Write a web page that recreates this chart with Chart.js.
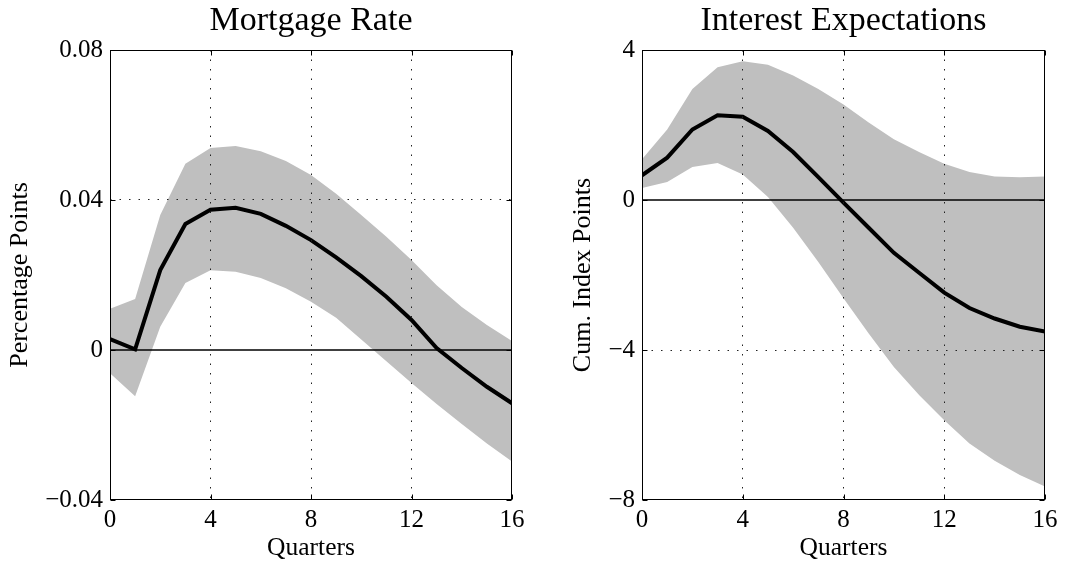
<!DOCTYPE html>
<html><head><meta charset="utf-8">
<script src="https://cdn.jsdelivr.net/npm/chart.js@4.4.0/dist/chart.umd.min.js"></script>
<style>
html,body{margin:0;padding:0;background:#fff;}
#wrap{position:relative;width:1066px;height:565px;overflow:hidden;}
canvas{position:absolute;top:0;}
#c1{left:0}
#c2{left:533px}
</style></head><body>
<div id="wrap"><canvas id="c1" width="533" height="565"></canvas><canvas id="c2" width="533" height="565"></canvas></div>
<script>
// ---- data ----
const quarters = [0,1,2,3,4,5,6,7,8,9,10,11,12,13,14,15,16];
const xTicks = [0,4,8,12,16];

const mortgageTitle = 'Mortgage Rate';
const mortgageYTitle = 'Percentage Points';
const mortgageMedian = [0.0029,0.0002,0.0213,0.0336,0.0374,0.0379,0.0363,0.0331,0.0293,0.0247,0.0197,0.0142,0.0080,0.0005,-0.0048,-0.0098,-0.0142];
const mortgageUpper  = [0.0110,0.0136,0.0360,0.0497,0.0539,0.0544,0.0530,0.0504,0.0467,0.0417,0.0360,0.0302,0.0240,0.0173,0.0115,0.0067,0.0024];
const mortgageLower  = [-0.0062,-0.0123,0.0062,0.0179,0.0213,0.0209,0.0192,0.0165,0.0129,0.0086,0.0028,-0.0030,-0.0088,-0.0144,-0.0197,-0.0249,-0.0297];
const mortgageYTicks = [-0.04,0,0.04,0.08];
const mortgageYLabels = ['\u22120.04','0','0.04','0.08'];

const expectTitle = 'Interest Expectations';
const expectYTitle = 'Cum. Index Points';
const expectMedian = [0.66,1.13,1.88,2.26,2.22,1.84,1.28,0.61,-0.07,-0.74,-1.41,-1.94,-2.47,-2.88,-3.16,-3.38,-3.51];
const expectUpper  = [1.09,1.88,2.96,3.54,3.70,3.61,3.32,2.96,2.55,2.07,1.62,1.28,0.97,0.75,0.63,0.61,0.63];
const expectLower  = [0.32,0.48,0.88,0.99,0.68,0.08,-0.74,-1.65,-2.62,-3.56,-4.45,-5.20,-5.87,-6.49,-6.95,-7.33,-7.64];
const expectYTicks = [-8,-4,0,4];
const expectYLabels = ['\u22128','\u22124','0','4'];

// ---- drawing ----
const FONT = "'Liberation Serif', 'Times New Roman', serif";

const framePlugin = {
  id: 'frame',
  afterDraw(chart) {
    const {ctx, chartArea: a, scales: {x, y}} = chart;
    ctx.save();
    ctx.strokeStyle = '#000';
    ctx.lineWidth = 1;
    const L = Math.round(a.left) + 0.5, R = Math.round(a.right) - 0.5;
    const T = Math.round(a.top) + 0.5, B = Math.round(a.bottom) - 0.5;
    ctx.strokeRect(L, T, R - L, B - T);
    const t = 5;
    ctx.beginPath();
    x.ticks.forEach(tk => {
      const px = Math.round(x.getPixelForValue(tk.value)) + 0.5;
      ctx.moveTo(px, B); ctx.lineTo(px, B - t);
      ctx.moveTo(px, T); ctx.lineTo(px, T + t);
    });
    y.ticks.forEach(tk => {
      const py = Math.round(y.getPixelForValue(tk.value)) + 0.5;
      ctx.moveTo(L, py); ctx.lineTo(L + t, py);
      ctx.moveTo(R, py); ctx.lineTo(R - t, py);
    });
    ctx.stroke();
    ctx.restore();
  }
};

function makeChart(id, cfg) {
  const pts = arr => quarters.map((q, i) => ({x: q, y: arr[i]}));
  const zero = [{x: quarters[0], y: 0}, {x: quarters[quarters.length - 1], y: 0}];
  const yMin = cfg.yTicks[0], yMax = cfg.yTicks[cfg.yTicks.length - 1];
  const xMin = xTicks[0], xMax = xTicks[xTicks.length - 1];
  return new Chart(document.getElementById(id), {
    type: 'line',
    data: {
      datasets: [
        {data: pts(cfg.median), borderColor: '#000', borderWidth: 4, pointRadius: 0, fill: false, order: 0},
        {data: zero, borderColor: '#000', borderWidth: 1.6, pointRadius: 0, fill: false, order: 1},
        {data: pts(cfg.upper), borderWidth: 0, borderColor: 'rgba(0,0,0,0)', backgroundColor: '#bfbfbf', pointRadius: 0, fill: '+1', order: 2},
        {data: pts(cfg.lower), borderWidth: 0, borderColor: 'rgba(0,0,0,0)', backgroundColor: '#bfbfbf', pointRadius: 0, fill: false, order: 3}
      ]
    },
    options: {
      responsive: false,
      animation: false,
      devicePixelRatio: 1,
      layout: {padding: {left: cfg.padLeft, right: cfg.padRight, top: 0, bottom: 0}},
      plugins: {
        legend: {display: false},
        tooltip: {enabled: false},
        title: {
          display: true, text: cfg.title, color: '#000', fullSize: false,
          font: {family: FONT, size: 34, weight: 'normal'},
          padding: {top: 1, bottom: 8.2}
        }
      },
      scales: {
        x: {
          type: 'linear', min: xMin, max: xMax,
          afterBuildTicks: s => { s.ticks = xTicks.map(v => ({value: v})); },
          afterFit: s => { s.height = 65; },
          ticks: {color: '#000', padding: 5, font: {family: FONT, size: 25}, callback: v => String(v), maxRotation: 0, autoSkip: false},
          grid: {drawTicks: false, z: 1, lineWidth: 1,
                 color: c => (c.tick && c.tick.value > xMin && c.tick.value < xMax) ? '#222' : 'rgba(0,0,0,0)'},
          border: {display: false, dash: [1.5, 8]},
          title: {display: true, text: 'Quarters', color: '#000', font: {family: FONT, size: 25.5}, padding: {top: 0, bottom: 1}}
        },
        y: {
          type: 'linear', min: yMin, max: yMax,
          afterBuildTicks: s => { s.ticks = cfg.yTicks.map(v => ({value: v})); },
          afterFit: s => { s.width = cfg.yWidth; },
          ticks: {color: '#000', padding: 7, font: {family: FONT, size: 25}, callback: (v, i) => cfg.yLabels[i], autoSkip: false},
          grid: {drawTicks: false, z: 1, lineWidth: 1,
                 color: c => (c.tick && c.tick.value > yMin && c.tick.value < yMax && c.tick.value !== 0) ? '#222' : 'rgba(0,0,0,0)'},
          border: {display: false, dash: [1.5, 8]},
          title: {display: true, text: cfg.yTitle, color: '#000', font: {family: FONT, size: 26}, padding: {top: 5, bottom: 0}}
        }
      }
    },
    plugins: [framePlugin]
  });
}

makeChart('c1', {
  title: mortgageTitle, yTitle: mortgageYTitle,
  median: mortgageMedian, upper: mortgageUpper, lower: mortgageLower,
  yTicks: mortgageYTicks, yLabels: mortgageYLabels,
  padLeft: 0, padRight: 21, yWidth: 110
});
makeChart('c2', {
  title: expectTitle, yTitle: expectYTitle,
  median: expectMedian, upper: expectUpper, lower: expectLower,
  yTicks: expectYTicks, yLabels: expectYLabels,
  padLeft: 30, padRight: 21, yWidth: 79
});
</script>
</body></html>
